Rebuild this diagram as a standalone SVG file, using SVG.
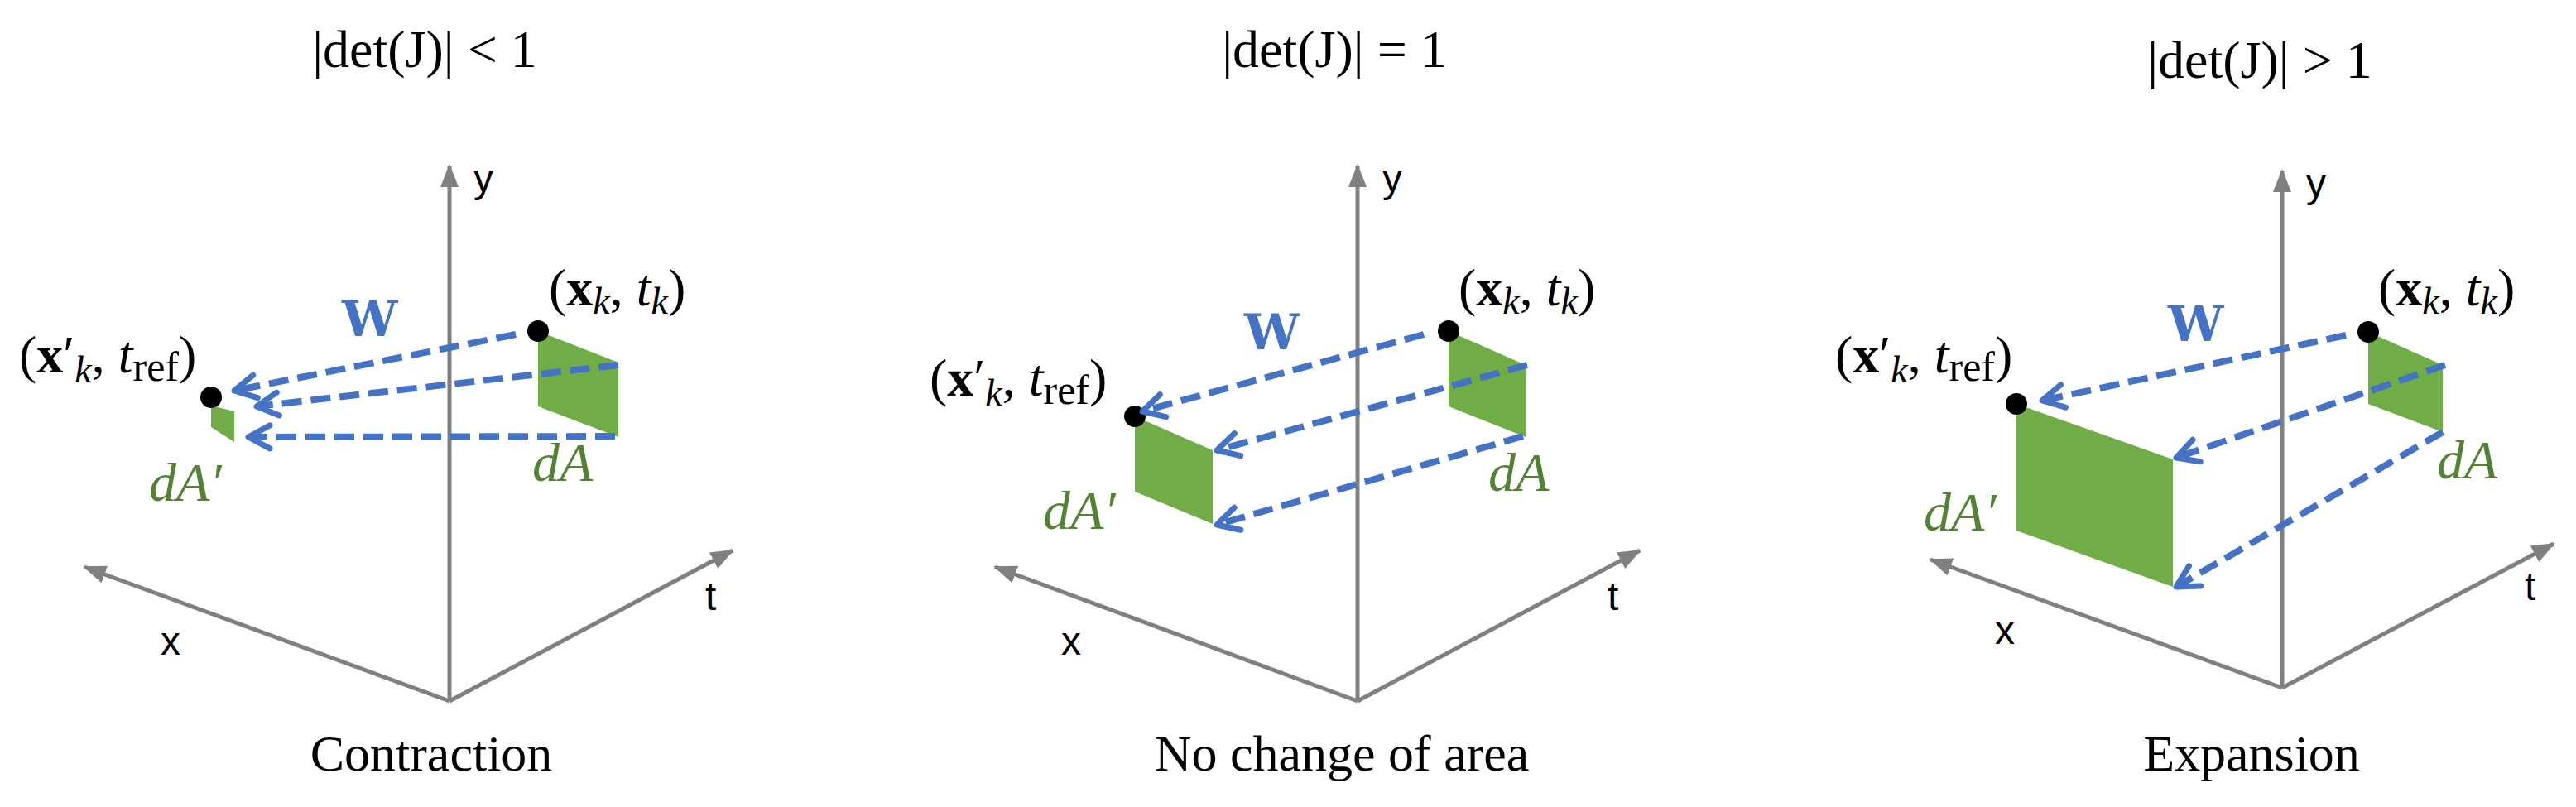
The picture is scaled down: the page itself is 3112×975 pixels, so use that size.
<svg xmlns="http://www.w3.org/2000/svg" width="3112" height="975" viewBox="0 0 3112 975">
<style>
.ax{stroke:#808080;stroke-width:5;fill:none}
.w{stroke:#4472C4;stroke-width:8;stroke-dasharray:24 11;fill:none}
.q{fill:#70AD47}
.m{font-family:"Liberation Serif","DejaVu Serif",serif;font-size:64px;fill:#000}
.al{font-family:"Liberation Sans","DejaVu Sans",sans-serif;font-size:48px;fill:#000}
.cap{font-family:"Liberation Serif","DejaVu Serif",serif;font-size:62px;fill:#000;text-anchor:middle}
.da{font-family:"Liberation Serif","DejaVu Serif",serif;font-size:66px;font-style:italic;fill:#548235}
.W{font-family:"DejaVu Serif","Liberation Serif",serif;font-size:60px;font-weight:bold;fill:#4472C4}
.b{font-weight:bold}.i{font-style:italic}
</style>
<defs>
<marker id="ah" markerUnits="userSpaceOnUse" markerWidth="40" markerHeight="40" refX="36" refY="20" orient="auto" viewBox="0 0 40 40">
<path d="M10 6 L36 20 L10 34" fill="none" stroke="#4472C4" stroke-width="7" stroke-linecap="round" stroke-linejoin="round"/>
</marker>
<marker id="ga" markerUnits="userSpaceOnUse" markerWidth="30" markerHeight="30" refX="26" refY="15" orient="auto" viewBox="0 0 30 30">
<path d="M0 4 L28 15 L0 26 Z" fill="#808080"/>
</marker>
</defs>

<g id="panel-contraction">
<text class="m" x="513" y="81" text-anchor="middle">|det(J)| &lt; 1</text>
<g id="axes1">
<line class="ax" x1="543" y1="847" x2="543" y2="200" marker-end="url(#ga)"/>
<line class="ax" x1="543" y1="847" x2="102" y2="685" marker-end="url(#ga)"/>
<line class="ax" x1="543" y1="847" x2="885" y2="665" marker-end="url(#ga)"/>
<text class="al" x="572" y="232">y</text>
<text class="al" x="194" y="791">x</text>
<text class="al" x="852" y="737">t</text>
</g>
<polygon class="q" points="650,400 747,438 747,528 650,491"/>
<polygon class="q" points="255,490 283,497 283,534 255,516"/>
<circle cx="650" cy="400" r="13"/>
<circle cx="255" cy="480" r="13"/>
<text class="m" x="663" y="369">(<tspan class="b">x</tspan><tspan class="i" font-size="46" dy="10">k</tspan><tspan dy="-10">, </tspan><tspan class="i">t</tspan><tspan class="i" font-size="46" dy="10">k</tspan><tspan dy="-10">)</tspan></text>
<text class="m" x="23" y="450">(<tspan class="b">x</tspan>′<tspan class="i" font-size="46" dy="12">k</tspan><tspan dy="-12">, </tspan><tspan class="i">t</tspan><tspan font-size="50" dy="10">ref</tspan><tspan dy="-10">)</tspan></text>
<text class="W" x="413" y="406">W</text>
<text class="da" x="643" y="581">dA</text>
<text class="da" x="180" y="605">dA′</text>
<text class="cap" x="521" y="931">Contraction</text>
</g>

<g id="panel-nochange">
<text class="m" x="1612" y="81" text-anchor="middle">|det(J)| = 1</text>
<g id="axes2">
<line class="ax" x1="1640" y1="847" x2="1640" y2="200" marker-end="url(#ga)"/>
<line class="ax" x1="1640" y1="847" x2="1202" y2="685" marker-end="url(#ga)"/>
<line class="ax" x1="1640" y1="847" x2="1981" y2="665" marker-end="url(#ga)"/>
<text class="al" x="1670" y="232">y</text>
<text class="al" x="1282" y="791">x</text>
<text class="al" x="1942" y="737">t</text>
</g>
<polygon class="q" points="1750,400 1843,441 1843,528 1750,491"/>
<polygon class="q" points="1371,503 1465,544 1465,633 1371,594"/>
<circle cx="1750" cy="400" r="13"/>
<circle cx="1371" cy="503" r="13"/>
<text class="m" x="1762" y="369">(<tspan class="b">x</tspan><tspan class="i" font-size="46" dy="10">k</tspan><tspan dy="-10">, </tspan><tspan class="i">t</tspan><tspan class="i" font-size="46" dy="10">k</tspan><tspan dy="-10">)</tspan></text>
<text class="m" x="1123" y="478">(<tspan class="b">x</tspan>′<tspan class="i" font-size="46" dy="12">k</tspan><tspan dy="-12">, </tspan><tspan class="i">t</tspan><tspan font-size="50" dy="10">ref</tspan><tspan dy="-10">)</tspan></text>
<text class="W" x="1503" y="422">W</text>
<text class="da" x="1798" y="593">dA</text>
<text class="da" x="1260" y="639">dA′</text>
<text class="cap" x="1621" y="931">No change of area</text>
</g>

<g id="panel-expansion">
<text class="m" x="2730" y="94" text-anchor="middle">|det(J)| &gt; 1</text>
<g id="axes3">
<line class="ax" x1="2757" y1="831" x2="2757" y2="206" marker-end="url(#ga)"/>
<line class="ax" x1="2757" y1="831" x2="2332" y2="676" marker-end="url(#ga)"/>
<line class="ax" x1="2757" y1="831" x2="3085" y2="657" marker-end="url(#ga)"/>
<text class="al" x="2786" y="238">y</text>
<text class="al" x="2410" y="778">x</text>
<text class="al" x="3050" y="725">t</text>
</g>
<polygon class="q" points="2861,401 2951,441 2951,522 2861,488"/>
<polygon class="q" points="2436,488 2625,555 2625,709 2436,641"/>
<circle cx="2861" cy="401" r="13"/>
<circle cx="2436" cy="488" r="13"/>
<text class="m" x="2873" y="369">(<tspan class="b">x</tspan><tspan class="i" font-size="46" dy="10">k</tspan><tspan dy="-10">, </tspan><tspan class="i">t</tspan><tspan class="i" font-size="46" dy="10">k</tspan><tspan dy="-10">)</tspan></text>
<text class="m" x="2217" y="450">(<tspan class="b">x</tspan>′<tspan class="i" font-size="46" dy="12">k</tspan><tspan dy="-12">, </tspan><tspan class="i">t</tspan><tspan font-size="50" dy="10">ref</tspan><tspan dy="-10">)</tspan></text>
<text class="W" x="2619" y="412">W</text>
<text class="da" x="2944" y="578">dA</text>
<text class="da" x="2324" y="641">dA′</text>
<text class="cap" x="2720" y="931">Expansion</text>
</g>

<g id="connectors">
<line class="w" x1="623" y1="404" x2="283" y2="472" marker-end="url(#ah)"/>
<line class="w" x1="747" y1="441" x2="310" y2="491" marker-end="url(#ah)"/>
<line class="w" x1="743" y1="527" x2="300" y2="528" marker-end="url(#ah)"/>
<line class="w" x1="1720" y1="404" x2="1380" y2="497" marker-end="url(#ah)"/>
<line class="w" x1="1845" y1="441" x2="1470" y2="544" marker-end="url(#ah)"/>
<line class="w" x1="1840" y1="527" x2="1470" y2="634" marker-end="url(#ah)"/>
<line class="w" x1="2834" y1="405" x2="2467" y2="484" marker-end="url(#ah)"/>
<line class="w" x1="2954" y1="441" x2="2629" y2="553" marker-end="url(#ah)"/>
<line class="w" x1="2951" y1="522" x2="2629" y2="709" marker-end="url(#ah)"/>
</g>
</svg>
